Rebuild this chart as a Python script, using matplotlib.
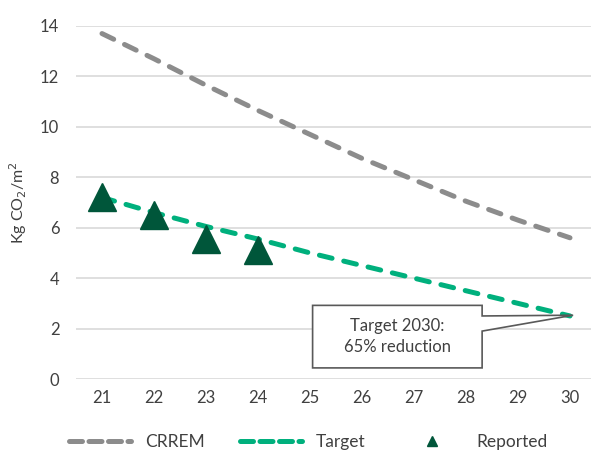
import matplotlib
matplotlib.use("Agg")
import matplotlib.pyplot as plt
from matplotlib.patches import Polygon
from matplotlib.lines import Line2D

plt.rcParams['font.family'] = ['Lato', 'DejaVu Sans']

years = [21, 22, 23, 24, 25, 26, 27, 28, 29, 30]
crrem = [13.7, 12.7, 11.65, 10.65, 9.7, 8.75, 7.9, 7.05, 6.3, 5.6]
target = [7.2, 6.6, 6.05, 5.55, 5.0, 4.5, 4.0, 3.5, 3.0, 2.5]
reported_years = [21, 22, 23, 24]
reported = [7.2, 6.5, 5.55, 5.1]
yticks = [0, 2, 4, 6, 8, 10, 12, 14]

GRAY = '#8c8c8c'
GREEN = '#00b07d'
DARK = '#00563a'
GRID = '#d9d9d9'
TEXT = '#404040'

fig = plt.figure(figsize=(5.91, 4.5), dpi=100)
ax = fig.add_axes([76 / 591, 1 - 379 / 450, (596 - 76) / 591, (379 - 26) / 450])

lw = 3.6
dash = (2.6, 2.4)
ax.plot(years, crrem, color=GRAY, lw=lw, dashes=dash,
        dash_capstyle='round', zorder=3)
ax.plot(years, target, color=GREEN, lw=lw, dashes=dash,
        dash_capstyle='round', zorder=3)
ax.plot(reported_years, reported, linestyle='none', marker='^',
        markersize=20, color=DARK, zorder=4)

ax.set_xlim(20.5, 30.5)
ax.set_ylim(0, 14)
ax.set_xticks(years)
ax.set_yticks(yticks)
ax.set_xticklabels([str(y) for y in years])
ax.tick_params(axis='both', length=0, labelsize=12, colors=TEXT, pad=8)
ax.tick_params(axis='y', pad=12)
ax.grid(axis='y', color=GRID, lw=1.2)
ax.set_axisbelow(True)
for s in ax.spines.values():
    s.set_visible(False)
ax.set_ylabel('Kg CO$_2$/m$^2$', fontsize=11.5, color=TEXT, labelpad=8)

# Callout box pointing at the 2030 target
tip = (years[-1] + 0.06, target[-1] + 0.03)
bx0, bx1, by0, by1 = 25.05, 28.31, 0.44, 2.92
callout = Polygon([(bx0, by0), (bx0, by1), (bx1, by1), (bx1, 2.5),
                   tip, (bx1, 1.9), (bx1, by0)],
                  closed=True, facecolor='white', edgecolor='#595959',
                  lw=1.2, zorder=5)
ax.add_patch(callout)
ax.text((bx0 + bx1) / 2, (by0 + by1) / 2, 'Target 2030:\n65% reduction',
        ha='center', va='center', fontsize=12, color=TEXT, zorder=6,
        linespacing=1.35)

handles = [
    Line2D([], [], color=GRAY, lw=lw, dashes=(2.6, 1.3), dash_capstyle='round'),
    Line2D([], [], color=GREEN, lw=lw, dashes=(2.6, 1.3), dash_capstyle='round'),
    Line2D([], [], linestyle='none', marker='^', markersize=7, color=DARK),
]
fig.legend(handles, ['CRREM', 'Target', 'Reported'], loc='center',
           bbox_to_anchor=(0.522, 1 - 442 / 450), ncol=3, frameon=False,
           fontsize=12.5, labelcolor=TEXT, handlelength=3.6, columnspacing=2.0,
           handletextpad=0.8)

fig.savefig('out.png', dpi=100)
